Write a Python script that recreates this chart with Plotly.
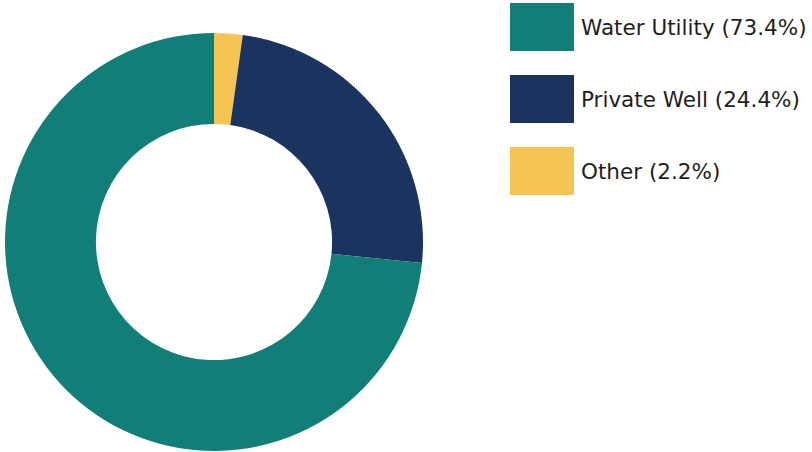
import plotly.graph_objects as go

labels = ["Water Utility", "Private Well", "Other"]
values = [73.4, 24.4, 2.2]
colors = ["#117f77", "#1a335f", "#f5c452"]

W, H = 812, 452

# Slices run clockwise from 12 o'clock: Other, Private Well, Water Utility
fig = go.Figure()
fig.add_trace(go.Pie(
    labels=labels[::-1],
    values=values[::-1],
    hole=0.565,
    sort=False,
    direction="clockwise",
    rotation=0,
    marker=dict(colors=colors[::-1], line=dict(width=0)),
    textinfo="none",
    hoverinfo="label+percent",
    showlegend=False,
    domain=dict(x=[5 / W, 423 / W], y=[1 - 451 / H, 1 - 33 / H]),
))

# Custom legend with large colour boxes
shapes = []
annotations = []
box_x0, box_x1 = 510, 574
top0, box_h, step = 3, 48, 72
for i, (lab, val, col) in enumerate(zip(labels, values, colors)):
    y0 = top0 + i * step
    y1 = y0 + box_h
    shapes.append(dict(
        type="rect", xref="paper", yref="paper",
        x0=box_x0 / W, x1=box_x1 / W,
        y0=1 - y1 / H, y1=1 - y0 / H,
        fillcolor=col, line=dict(width=0),
    ))
    annotations.append(dict(
        xref="paper", yref="paper",
        x=579 / W, y=1 - (y0 + box_h / 2) / H,
        xanchor="left", yanchor="middle",
        text=f"{lab} ({val}%)",
        showarrow=False,
        font=dict(family="DejaVu Sans, sans-serif", size=21.5, color="#1e1e1e"),
    ))

fig.update_layout(
    width=W, height=H,
    margin=dict(l=0, r=0, t=0, b=0),
    paper_bgcolor="white",
    plot_bgcolor="white",
    shapes=shapes,
    annotations=annotations,
)

fig.write_html("out.html")
